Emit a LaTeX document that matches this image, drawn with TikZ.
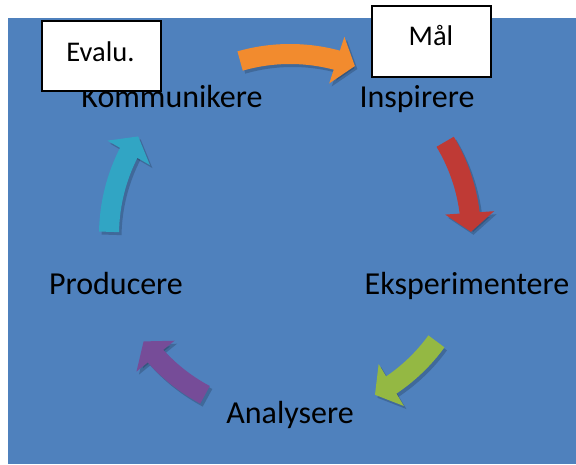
\documentclass[tikz,border=0pt]{standalone}
\usepackage{fontspec}
\setmainfont{Carlito}
\usetikzlibrary{arrows.meta,bending}
\definecolor{bgblue}{HTML}{4F81BD}
\definecolor{corange}{HTML}{F28B2E}
\definecolor{cred}{HTML}{BF3A35}
\definecolor{cgreen}{HTML}{94B843}
\definecolor{cpurple}{HTML}{764C98}
\definecolor{ccyan}{HTML}{31A5C4}
\tikzset{
  cyc/.style={line width=20pt, -{Triangle[width=48pt,length=19pt,flex]}},
  shadowarr/.style={cyc, draw=black, opacity=0.18},
  stage/.style={font=\fontsize{32}{38}\selectfont, anchor=base, inner sep=0pt, text=black},
  tagbox/.style={draw=black, line width=2pt, fill=white},
  tagtext/.style={font=\fontsize{28.5}{34}\selectfont, anchor=base, inner sep=0pt, text=black}
}
\newcommand{\cycarr}[3]{%
  \draw[shadowarr] ([shift={(#1:181)}]2.5,-3) arc[start angle=#1, end angle=#2, radius=181];
  \draw[cyc, draw=#3] ([shift={(#1:181)}]0,0) arc[start angle=#1, end angle=#2, radius=181];
}
\begin{document}
\begin{tikzpicture}[x=1pt,y=1pt]
  \useasboundingbox (0,0) rectangle (576,464);
  \fill[white] (0,0) rectangle (576,464);
  \fill[bgblue] (8,0) rectangle (576,446);
  \coordinate (c) at (290,229);
  \begin{scope}[shift={(c)}]
    \cycarr{106}{69}{corange}
    \cycarr{31}{1}{cred}
    \cycarr{-36}{-62}{cgreen}
    \cycarr{-118}{-144}{cpurple}
    \cycarr{179}{147}{ccyan}
  \end{scope}
  \node[stage] (komm) at (172,356) {Kommunikere};
  \node[stage] (insp) at (417,356) {Inspirere};
  \node[stage] (eksp) at (467,169) {Eksperimentere};
  \node[stage] (prod) at (116,169) {Producere};
  \node[stage] (anal) at (290,41) {Analysere};
  \node[tagbox, minimum width=119pt, minimum height=70pt, anchor=south west] (evalbox) at (41,372) {};
  \node[tagtext] (evaltxt) at (100.5,402) {Evalu.};
  \node[tagbox, minimum width=119pt, minimum height=71pt, anchor=south west] (maalbox) at (371,386) {};
  \node[tagtext] (maaltxt) at (431,418) {Mål};
\end{tikzpicture}
\end{document}
